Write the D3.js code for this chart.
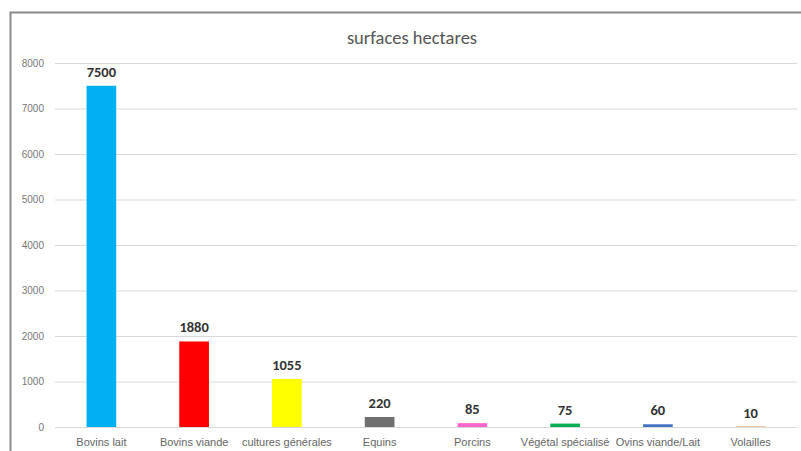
<!DOCTYPE html>
<html><head><meta charset="utf-8">
<script src="https://cdn.jsdelivr.net/npm/d3@7"></script>
<style>body{margin:0;background:#fff;}svg{display:block;font-family:Calibri,Carlito,"Open Sans",sans-serif;}</style>
</head><body>
<svg id="c" width="801" height="451"></svg>
<script>
const categories = ["Bovins lait","Bovins viande","cultures générales","Equins","Porcins","Végétal spécialisé","Ovins viande/Lait","Volailles"];
const values = [7500,1880,1055,220,85,75,60,10];
const colors = ["#00B0F0","#FF0000","#FFFF00","#707070","#FF66CC","#00B050","#4472C4","#ED7D31"];
const yTicks = [0,1000,2000,3000,4000,5000,6000,7000,8000];
const title = "surfaces hectares";

const svg = d3.select("#c");
// frame
svg.append("rect").attr("x",10.5).attr("y",12.5).attr("width",830).attr("height",460)
  .attr("fill","#fff").attr("stroke","#8a8a8a").attr("stroke-width",2);

const x = d3.scaleBand().domain(categories).range([55,797]).paddingInner(0.68).paddingOuter(0.34);
const y = d3.scaleLinear().domain([0,8000]).range([427,63]);

const yAxis = svg.append("g").attr("transform","translate(55,0)")
  .call(d3.axisLeft(y).tickValues(yTicks).tickFormat(d3.format("d")).tickSize(-742).tickPadding(11));
yAxis.select(".domain").remove();
yAxis.selectAll(".tick line").attr("stroke","#d9d9d9");
yAxis.selectAll(".tick text").attr("fill","#777").style("font-size","10px");

svg.append("g").selectAll("rect").data(values).join("rect")
  .attr("x",(d,i)=>x(categories[i])).attr("width",x.bandwidth())
  .attr("y",d=>y(d)).attr("height",d=>y(0)-y(d))
  .attr("fill",(d,i)=>colors[i]);

svg.append("g").selectAll("text").data(values).join("text")
  .attr("x",(d,i)=>x(categories[i])+x.bandwidth()/2).attr("y",d=>y(d)-9)
  .attr("text-anchor","middle").attr("fill","#333").style("font-size","14.5px").style("font-weight","bold")
  .text(d=>d);

const xAxis = svg.append("g").attr("transform","translate(0,427)")
  .call(d3.axisBottom(x).tickSize(0).tickPadding(11));
xAxis.select(".domain").attr("stroke","#d9d9d9");
xAxis.selectAll(".tick text").attr("fill","#666").style("font-size","11px");

svg.append("text").attr("x",412).attr("y",44).attr("text-anchor","middle")
  .attr("fill","#555").style("font-size","18.5px").text(title);
</script>
</body></html>
